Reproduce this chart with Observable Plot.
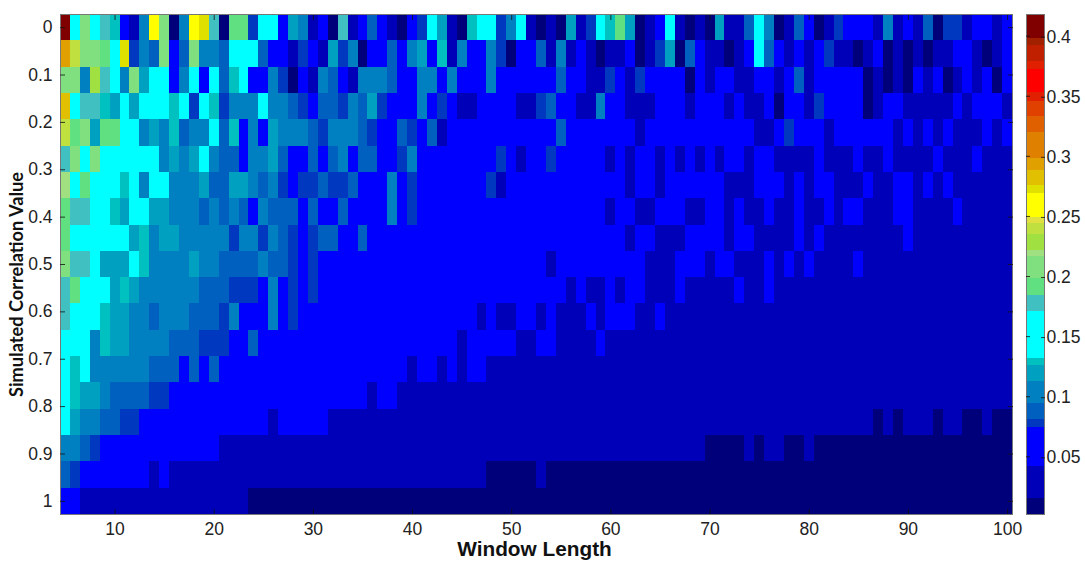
<!DOCTYPE html>
<html><head><meta charset="utf-8">
<script src="https://cdn.jsdelivr.net/npm/d3@7"></script>
<script src="https://cdn.jsdelivr.net/npm/@observablehq/plot@0.6"></script>
<style>
html,body{margin:0;padding:0;background:#fff}
#wrap{position:relative;width:1085px;height:564px;overflow:hidden}
#wrap svg{position:absolute;top:0;display:block;background:transparent}
</style></head><body><div id="wrap"></div>
<script>
// Window lengths 5..100 and simulated correlation 0..1 in 19 steps. Cell values are in hundredths.
const windowLengths = d3.range(5, 101);
const correlations = d3.range(19).map(i => i / 18);
const xTicks = [10,20,30,40,50,60,70,80,90,100];
const yTicks = [0,0.1,0.2,0.3,0.4,0.5,0.6,0.7,0.8,0.9,1];
const barTicks = [5,10,15,20,25,30,35,40];
const thresholds = [1.5,4.2,7.4,8.1,9.4,11.3,12.6,13.2,17.1,18.4,19.8,21.7,22.2,23.5,24.4,24.9,26.9,27.6,28.8,29.8,32,33.3,34.6,35.3,37.2,37.9,39.2,39.8];
const colors = ["#00007a","#0000b8","#0000ff","#0038c0","#0060c0","#0080c0","#00a0c0","#00c0c0","#00ffff","#40c0c0","#60e080","#80e080","#a0e080","#a0e040","#c0e040","#e0e040","#ffff00","#e0e000","#e0c000","#e0a000","#e08000","#e06000","#e04000","#e02000","#ff0000","#e02000","#c02000","#a02000","#800000"];

const r0 = [41,15,21,15,18, 13,5,3,10,26,21,1,10,26,27, 18,1,19,19,8,15,15,5,12,10, 3,5,1,18,3,5,9,5,3,1, 5,8,15,12,3,1,13,15,15,8, 10,15,3,1,3,1,12,3,8,15, 13,19,12,1,3,5,15,3,1,3, 1,12,3,3,9,15,10,1,3,9, 5,1,3,8,5,5,5,3,10,3, 5,3,9,1,8,8,3,5,5,3,5];
const r1 = [29,24,21,21,19, 15,27,8,10,9,21,5,9,21,10, 10,9,15,15,15,9,5,5,3,8, 5,3,12,8,10,1,5,5,9,5, 10,12,5,13,3,10,5,5,10,8, 1,5,5,9,3,10,3,5,3,1, 3,3,5,1,3,8,12,1,9,5, 3,3,1,3,5,15,9,5,3,5, 3,5,8,3,3,1,3,5,1,3, 1,3,1,3,3,5,5,3,1,3,5];
const r2 = [21,21,10,23,18, 15,10,21,12,15,15,5,10,15,5, 15,9,13,15,5,5,10,8,1,5, 3,10,9,5,3,10,10,10,9,5, 5,10,10,5,10,5,5,5,10,5, 5,5,5,5,5,9,5,5,3,3, 8,5,3,8,5,5,5,5,1,5, 3,5,5,3,3,5,5,3,5,9, 3,5,5,5,5,5,1,3,1,3, 1,5,3,5,1,3,5,3,5,1,5];
const r3 = [28,15,18,18,13, 12,15,12,15,15,15,13,15,8,15, 13,8,10,10,10,15,10,10,9,8, 5,9,9,8,10,9,12,8,5,5, 5,10,5,8,5,3,3,5,5,5, 5,3,3,8,9,5,5,3,3,10, 5,5,3,3,3,5,5,5,3,5, 5,5,3,5,3,3,5,1,5,5, 3,8,5,5,5,5,1,3,5,5, 3,3,3,3,3,5,3,5,5,5,3];
const r4 = [24,19,21,12,19, 19,15,15,10,12,10,13,9,10,10, 15,9,13,5,10,5,12,10,10,10, 9,8,10,10,10,9,8,5,5,9, 8,5,9,3,5,5,5,5,5,5, 5,5,5,5,5,9,5,5,5,5, 5,5,5,3,5,5,5,5,5,5, 5,5,5,5,5,3,3,5,8,5, 5,5,3,5,5,5,5,5,5,3, 5,3,5,3,5,3,3,3,5,3,5];
const r5 = [18,21,15,21,15, 15,15,15,15,15,10,12,10,12,15, 10,9,9,5,10,10,12,9,5,5, 9,5,9,10,5,9,9,5,5,8, 10,5,5,5,5,5,5,5,5,8, 5,3,5,5,8,5,5,5,5,5, 3,5,3,5,5,3,5,3,5,3, 5,3,5,5,3,5,5,3,3,3, 3,5,3,3,3,5,3,3,5,3, 3,3,3,5,3,3,3,5,3,3,3];
const r6 = [22,15,19,15,15, 15,13,15,10,15,15,10,10,10,12, 9,9,12,12,10,9,10,8,5,8, 8,9,8,8,9,5,5,5,10,5, 8,5,5,5,5,5,5,5,8,3, 5,5,5,5,5,5,5,5,5,5, 5,5,3,5,5,3,5,5,5,5, 5,5,3,3,3,5,5,5,3,5, 3,5,5,3,3,3,5,3,3,5, 5,3,5,3,5,3,3,3,3,3,3];
const r7 = [19,18,18,15,15, 13,12,15,15,12,12,10,10,10,9, 10,9,10,9,5,10,9,9,9,5, 9,5,5,9,5,5,5,5,10,5, 8,5,5,5,5,5,5,5,5,5, 5,5,5,5,5,5,5,5,5,5, 3,5,5,3,3,5,5,5,3,3, 5,5,3,5,3,3,5,3,3,5, 3,3,5,3,5,5,3,3,3,5, 5,3,3,3,3,5,3,3,3,3,3];
const r8 = [19,15,15,15,15, 15,15,12,13,10,12,12,10,10,10, 10,10,8,10,10,8,10,9,8,5, 8,9,9,5,5,9,5,5,5,5, 5,5,5,5,5,5,5,5,5,5, 5,5,5,5,5,5,5,5,5,5, 5,5,3,5,5,3,3,3,5,5, 5,5,3,5,5,3,3,3,3,5, 3,5,3,3,3,3,3,3,3,3, 5,3,3,3,3,3,3,3,3,3,3];
const r9 = [21,18,18,15,12, 12,12,15,13,10,10,10,10,12,10, 10,9,9,9,9,10,9,9,8,5, 8,5,5,5,5,5,5,5,5,5, 5,5,5,5,5,5,5,5,5,5, 5,5,5,5,3,5,5,5,5,5, 5,5,5,5,3,3,3,5,5,5, 3,5,5,3,3,3,5,3,5,3, 5,3,3,3,3,5,3,3,3,3, 3,3,3,3,3,3,3,3,3,3,3];
const r10 = [18,19,15,15,15, 12,13,12,10,10,10,10,10,10,9, 9,9,8,8,8,5,10,5,8,5, 8,5,5,5,5,5,5,5,5,5, 5,5,5,5,5,5,5,5,5,5, 5,5,5,5,5,5,3,5,3,3, 5,3,5,5,3,3,3,5,3,3, 3,3,3,5,3,3,5,3,3,3, 3,3,3,3,3,3,3,3,3,3, 3,3,3,3,3,3,3,3,3,3,3];
const r11 = [18,15,15,15,13, 12,12,10,10,9,10,10,10,9,9, 9,8,10,5,5,5,10,5,8,5, 5,5,5,5,5,5,5,5,5,5, 5,5,5,5,5,5,5,3,5,3, 3,5,5,3,5,3,3,3,5,3, 5,5,5,3,3,5,3,3,3,3, 3,3,3,3,3,3,3,3,3,3, 3,3,3,3,3,3,3,3,3,3, 3,3,3,3,3,3,3,3,3,3,3];
const r12 = [15,15,15,10,13, 12,12,10,10,10,10,9,9,9,8, 8,8,5,5,9,5,5,5,5,5, 5,5,5,5,5,5,5,5,5,5, 5,5,5,5,5,3,5,5,5,5, 5,3,3,5,5,3,3,3,3,5, 3,3,3,3,3,3,3,3,3,3, 3,3,3,3,3,3,3,3,3,3, 3,3,3,3,3,3,3,3,3,3, 3,3,3,3,3,3,3,3,3,3,3];
const r13 = [15,13,15,10,10, 10,10,10,10,9,9,9,5,9,5, 9,5,5,5,5,5,5,5,5,5, 5,5,5,5,5,5,5,5,5,5, 3,5,5,3,5,3,5,5,3,3, 3,3,3,3,3,3,3,3,3,3, 3,3,3,3,3,3,3,3,3,3, 3,3,3,3,3,3,3,3,3,3, 3,3,3,3,3,3,3,3,3,3, 3,3,3,3,3,3,3,3,3,3,3];
const r14 = [15,13,12,12,10, 9,9,9,9,8,8,5,5,5,5, 5,5,5,5,5,5,5,5,5,5, 5,5,5,5,5,5,3,5,5,3, 3,3,3,3,3,3,3,3,3,3, 3,3,3,3,3,3,3,3,3,3, 3,3,3,3,3,3,3,3,3,3, 3,3,3,3,3,3,3,3,3,3, 3,3,3,3,3,3,3,3,3,3, 3,3,3,3,3,3,3,3,3,3,3];
const r15 = [15,12,10,10,9, 9,8,8,5,5,5,5,5,5,5, 5,5,5,5,5,5,3,5,5,5, 5,5,3,3,3,3,3,3,3,3, 3,3,3,3,3,3,3,3,3,3, 3,3,3,3,3,3,3,3,3,3, 3,3,3,3,3,3,3,3,3,3, 3,3,3,3,3,3,3,3,3,3, 3,3,3,3,3,3,3,1,3,1, 3,3,3,1,3,3,1,1,3,1,1];
const r16 = [10,10,9,8,5, 5,5,5,5,5,5,5,5,5,5, 5,3,3,3,3,3,3,3,3,3, 3,3,3,3,3,3,3,3,3,3, 3,3,3,3,3,3,3,3,3,3, 3,3,3,3,3,3,3,3,3,3, 3,3,3,3,3,3,3,3,3,3, 1,1,1,1,3,1,3,3,1,1, 3,1,1,1,1,1,1,1,1,1, 1,1,1,1,1,1,1,1,1,1,1];
const r17 = [9,8,5,5,5, 5,5,5,5,3,5,3,3,3,3, 3,3,3,3,3,3,3,3,3,3, 3,3,3,3,3,3,3,3,3,3, 3,3,3,3,3,3,3,3,1,1, 1,1,1,3,1,1,1,1,1,1, 1,1,1,1,1,1,1,1,1,1, 1,1,1,1,1,1,1,1,1,1, 1,1,1,1,1,1,1,1,1,1, 1,1,1,1,1,1,1,1,1,1,1];
const r18 = [5,5,3,3,3, 3,3,3,3,3,3,3,3,3,3, 3,3,3,3,1,1,1,1,1,1, 1,1,1,1,1,1,1,1,1,1, 1,1,1,1,1,1,1,1,1,1, 1,1,1,1,1,1,1,1,1,1, 1,1,1,1,1,1,1,1,1,1, 1,1,1,1,1,1,1,1,1,1, 1,1,1,1,1,1,1,1,1,1, 1,1,1,1,1,1,1,1,1,1,1];
const rows = [r0,r1,r2,r3,r4,r5,r6,r7,r8,r9,r10,r11,r12,r13,r14,r15,r16,r17,r18];

const half = 1 / 36;
const cells = rows.flatMap((row, j) => row.map((v, i) => ({
  x: windowLengths[i], y: correlations[j], v
})));
const color = {type: "threshold", domain: thresholds, range: colors};
const tickFont = "'Liberation Sans', Arial, sans-serif";
const fmtY = d => String(d);

const main = Plot.plot({
  width: 1085, height: 564,
  marginLeft: 60, marginRight: 73, marginTop: 14, marginBottom: 50,
  style: {fontFamily: tickFont, background: "transparent"},
  x: {domain: [4.5, 100.5], label: null},
  y: {domain: [1 + half, -half], label: null},
  color,
  marks: [
    Plot.rect(cells, {
      x1: d => d.x - 0.5, x2: d => d.x + 0.5,
      y1: d => d.y - half, y2: d => d.y + half,
      fill: "v", shapeRendering: "crispEdges", inset: 0
    }),
    Plot.frame({stroke: "#777", strokeWidth: 1}),
    Plot.axisX(xTicks, {anchor: "bottom", tickSize: -5, tickPadding: 13, fontSize: 17.5, stroke: "#111", fill: "#222", strokeOpacity: 0.8, label: null}),
    Plot.axisX(xTicks, {anchor: "top", tickSize: -5, tickFormat: () => "", stroke: "#111", strokeOpacity: 0.8, label: null}),
    Plot.axisY(yTicks, {anchor: "left", tickSize: -5, tickPadding: 13, fontSize: 17.5, stroke: "#111", fill: "#222", strokeOpacity: 0.8, tickFormat: fmtY, label: null}),
    Plot.axisY(yTicks, {anchor: "right", tickSize: -5, tickFormat: () => "", stroke: "#111", strokeOpacity: 0.8, label: null}),
    Plot.text(["Window Length"], {frameAnchor: "bottom", dy: 41.5, dx: -2, fontSize: 20.8, fontWeight: "bold", fill: "#111", lineAnchor: "bottom"}),
    Plot.text(["Simulated Correlation Value"], {frameAnchor: "left", textAnchor: "middle", dx: -43, dy: 20, rotate: -90, fontSize: 18.2, fontWeight: "bold", fill: "#111", fontFamily: "Lato, sans-serif"})
  ]
});
main.style.left = "0px";

const bounds = [0.2, ...thresholds, 41.8];
const segments = colors.map((c, i) => ({lo: bounds[i], hi: bounds[i + 1], mid: (bounds[i] + bounds[i + 1]) / 2}));
const bar = Plot.plot({
  width: 60, height: 564,
  marginLeft: 2, marginRight: 40, marginTop: 14, marginBottom: 50,
  style: {fontFamily: tickFont, background: "transparent"},
  x: {domain: [0, 1], axis: null},
  y: {domain: [0.2, 41.8], label: null},
  color,
  marks: [
    Plot.rect(segments, {x1: 0, x2: 1, y1: "lo", y2: "hi", fill: "mid", shapeRendering: "crispEdges"}),
    Plot.frame({stroke: "#777", strokeWidth: 1}),
    Plot.axisY(barTicks, {anchor: "right", tickSize: -4, tickPadding: 6, fontSize: 17.5, dy: 1, stroke: "#111", fill: "#222", strokeOpacity: 0.8, tickFormat: d => String(d / 100), label: null}),
    Plot.axisY(barTicks, {anchor: "left", tickSize: -4, tickFormat: () => "", stroke: "#111", strokeOpacity: 0.8, label: null})
  ]
});
bar.style.left = "1024px";
bar.style.overflow = "visible";
const wrap = document.getElementById("wrap");
wrap.append(main, bar);
</script></body></html>
